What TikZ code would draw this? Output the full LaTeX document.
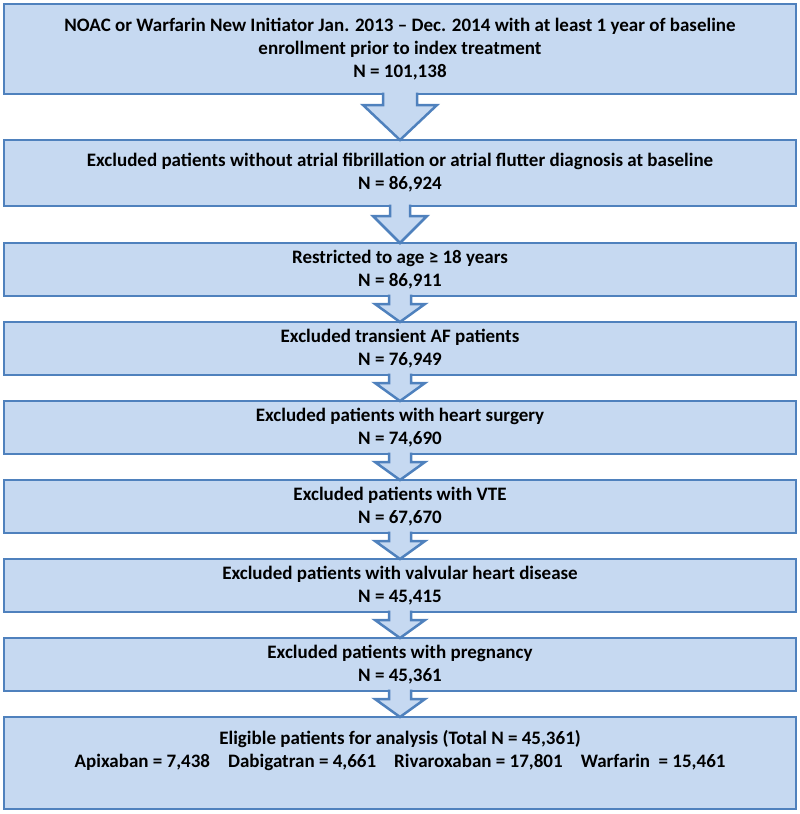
\documentclass[tikz,border=0pt]{standalone}
\usepackage{fontspec}
\setmainfont{Carlito}
\usepackage{tikz}
\usetikzlibrary{positioning,calc}
\definecolor{FlowFill}{HTML}{C6D9F1}
\definecolor{FlowLine}{HTML}{4F81BD}
\tikzset{
  flowbox/.style={draw=FlowLine,fill=FlowFill,line width=2.5pt,align=center,minimum width=792pt,
    inner sep=2pt,outer sep=0pt,font=\bfseries\fontsize{19}{23}\selectfont},
  blockarrow/.style={draw=FlowLine,fill=FlowFill,line width=2.5pt,line join=miter}
}
% block arrow from the bottom of #1 to the top of #2
% #3 half shaft width, #4 half head width, #5 head length
\newcommand{\flowdown}[5]{%
  \filldraw[blockarrow] ($(#1.south)+(-#3,1.5)$) -- ($(#2.north)+(-#3,#5)$) -- ($(#2.north)+(-#4,#5)$)
    -- (#2.north) -- ($(#2.north)+(#4,#5)$) -- ($(#2.north)+(#3,#5)$) -- ($(#1.south)+(#3,1.5)$);
}
\begin{document}
\begin{tikzpicture}[x=1pt,y=1pt,node distance=26pt]
\useasboundingbox (0,0) rectangle (800,-814);
\node[flowbox,minimum height=90pt,anchor=north] (b1) at (400,-4) {NOAC or Warfarin New Initiator Jan. 2013 – Dec. 2014 with at least 1 year of baseline\\enrollment prior to index treatment\\N = 101,138};
\node[flowbox,minimum height=66pt,below=46pt of b1] (b2) {Excluded patients without atrial fibrillation or atrial flutter diagnosis at baseline\\N = 86,924};
\node[flowbox,minimum height=53pt,below=37pt of b2] (b3) {Restricted to age ≥ 18 years\\N = 86,911};
\node[flowbox,minimum height=53pt,below=of b3] (b4) {Excluded transient AF patients\\N = 76,949};
\node[flowbox,minimum height=53pt,below=of b4] (b5) {Excluded patients with heart surgery\\N = 74,690};
\node[flowbox,minimum height=53pt,below=of b5] (b6) {Excluded patients with VTE\\N = 67,670};
\node[flowbox,minimum height=53pt,below=of b6] (b7) {Excluded patients with valvular heart disease\\N = 45,415};
\node[flowbox,minimum height=53pt,below=of b7] (b8) {Excluded patients with pregnancy\\N = 45,361};
\node[flowbox,minimum height=92pt,text depth=28pt,below=of b8] (b9) {Eligible patients for analysis (Total N = 45,361)\\Apixaban = 7,438\hspace{18pt}Dabigatran = 4,661\hspace{18pt}Rivaroxaban = 17,801\hspace{18pt}Warfarin~ = 15,461};
\flowdown{b1}{b2}{17}{37}{35}
\flowdown{b2}{b3}{10}{27}{27}
\flowdown{b3}{b4}{11}{25}{18}
\flowdown{b4}{b5}{11}{25}{18}
\flowdown{b5}{b6}{11}{25}{18}
\flowdown{b6}{b7}{11}{25}{18}
\flowdown{b7}{b8}{11}{25}{18}
\flowdown{b8}{b9}{11}{25}{18}
\end{tikzpicture}
\end{document}
